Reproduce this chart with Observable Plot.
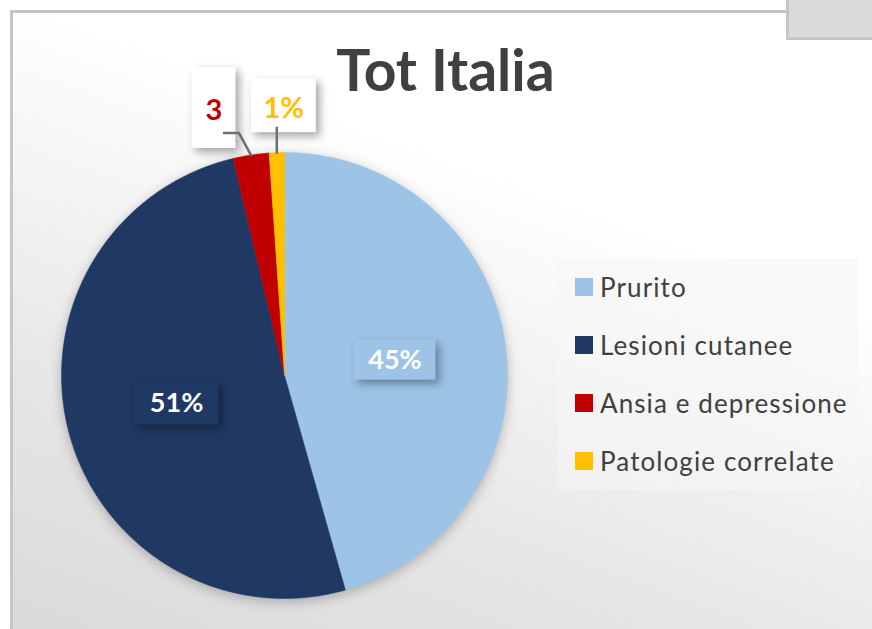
<!DOCTYPE html>
<html>
<head>
<meta charset="utf-8">
<script src="https://cdn.jsdelivr.net/npm/d3@7"></script>
<script src="https://cdn.jsdelivr.net/npm/@observablehq/plot@0.6"></script>
<style>
  html, body { margin: 0; padding: 0; background: #ffffff; }
  #wrap { position: relative; width: 872px; height: 629px; overflow: hidden; font-family: Lato, "Open Sans", sans-serif; }
  #bg { position: absolute; left: 10px; top: 10px; width: 900px; height: 700px;
        border-left: 3px solid #c6c6c6; border-top: 3px solid #c6c6c6;
        background: linear-gradient(200deg, #ffffff 0%, #ffffff 30%, #e4e4e4 70%, #d6d6d6 100%); }
  #corner { position: absolute; left: 786px; top: -4px; width: 100px; height: 41px;
        border-left: 3px solid #c6c6c6; border-bottom: 3px solid #c6c6c6; background: #dadada; }
  #chart { position: absolute; left: 0; top: 0; }
  #legend { position: absolute; left: 557px; top: 258px; width: 301px; height: 232px;
        background: rgba(245,245,245,0.55); }
  .item { position: absolute; left: 18px; height: 26px; display: flex; align-items: center;
        font-size: 26px; letter-spacing: 1.1px; color: #404040; white-space: nowrap; }
  .sw { width: 18px; height: 18px; margin-right: 7px; }
</style>
</head>
<body>
<div id="wrap">
  <div id="bg"></div>
  <div id="corner"></div>
  <div id="chart"></div>
  <div id="legend"></div>
</div>
<script>
// ---- data ----
const title = "Tot Italia";
const categories = ["Prurito", "Lesioni cutanee", "Ansia e depressione", "Patologie correlate"];
const values = [45.6, 50.7, 2.6, 1.1];
const labels = ["45%", "51%", "3", "1%"];
const colors = ["#9DC3E6", "#203864", "#C00000", "#FFC000"];

// ---- layout constants ----
const W = 872, H = 629, CX = 284, CY = 375, R = 223;
const px = v => v / R; // pixels -> data units

const arcs = d3.pie().sort(null).value(d => d)(values);

// polygon vertices for each slice (computed geometry from the pie angles)
const slicePts = [];
arcs.forEach((a, i) => {
  const n = Math.max(2, Math.ceil((a.endAngle - a.startAngle) / 0.005));
  slicePts.push({cat: categories[i], x: 0, y: 0});
  for (let k = 0; k <= n; k++) {
    const t = a.startAngle + (a.endAngle - a.startAngle) * k / n;
    slicePts.push({cat: categories[i], x: Math.sin(t), y: Math.cos(t)});
  }
});

const mid = a => (a.startAngle + a.endAngle) / 2;
const at = (a, r) => ({x: r * Math.sin(mid(a)), y: r * Math.cos(mid(a))});

// inside labels (first two slices)
const inside = arcs.slice(0, 2).map((a, i) => ({...at(a, 0.5), label: labels[i], cat: categories[i]}));
const boxIn = [{w: 82, h: 40}, {w: 85, h: 43}];
const inBoxes = inside.map((d, i) => ({cat: d.cat, x1: d.x - px(boxIn[i].w / 2), x2: d.x + px(boxIn[i].w / 2),
  y1: d.y - px(boxIn[i].h / 2), y2: d.y + px(boxIn[i].h / 2)}));

// outside labels (small slices) with callout offsets from the arc point (px)
const outOff = [{dx: -37, dy: -47, w: 44, h: 81}, {dx: 7, dy: -47, w: 65, h: 54}];
const outside = arcs.slice(2).map((a, j) => {
  const p = at(a, 1);
  const o = outOff[j];
  const cx = p.x + px(o.dx), cy = p.y - px(o.dy);
  return {p, cx, cy, o, label: labels[j + 2], cat: categories[j + 2], color: colors[j + 2]};
});
const outBoxes = outside.map(d => ({x1: d.cx - px(d.o.w / 2), x2: d.cx + px(d.o.w / 2),
  y1: d.cy - px(d.o.h / 2), y2: d.cy + px(d.o.h / 2)}));

// leader lines
const leaders = [];
{
  const d = outside[0];
  leaders.push({k: 0, x: d.p.x, y: d.p.y});
  leaders.push({k: 0, x: d.p.x - px(12), y: d.p.y + px(22)});
  leaders.push({k: 0, x: d.p.x - px(27), y: d.p.y + px(22)});
  const e = outside[1];
  leaders.push({k: 1, x: e.p.x, y: e.p.y});
  leaders.push({k: 1, x: e.p.x, y: e.p.y + px(25)});
}

const chart = Plot.plot({
  width: W, height: H, margin: 0,
  style: {background: "transparent", fontFamily: "Lato, 'Open Sans', sans-serif", overflow: "visible"},
  x: {domain: [-CX / R, (W - CX) / R], axis: null},
  y: {domain: [-(H - CY) / R, CY / R], axis: null},
  color: {domain: categories, range: colors},
  marks: [
    Plot.line(slicePts, {x: "x", y: "y", z: "cat", fill: "cat", stroke: "cat", strokeWidth: 0.5, curve: "linear-closed", ariaDescription: "pie"}),
    Plot.rect(inBoxes, {x1: "x1", x2: "x2", y1: "y1", y2: "y2", fill: "cat", ariaDescription: "box"}),
    Plot.text(inside, {x: "x", y: "y", text: "label", fill: "white", fontSize: 27, fontWeight: "bold"}),
    Plot.rect(outBoxes, {x1: "x1", x2: "x2", y1: "y1", y2: "y2", fill: "white", ariaDescription: "box"}),
    Plot.line(leaders, {x: "x", y: "y", z: "k", stroke: "#6f6f6f", strokeWidth: 2.5}),
    Plot.text(outside, {x: "cx", y: "cy", text: "label", fill: d => d.color, fontSize: 29, fontWeight: "bold", dy: 3}),
    Plot.text([title], {frameAnchor: "top", dx: 9, dy: 72, text: d => d, fontSize: 57, fontWeight: "bold", fill: "#404040", lineAnchor: "middle"})
  ]
});
document.getElementById("chart").appendChild(chart);
chart.querySelectorAll('g[aria-description="pie"]').forEach(g => g.style.filter = "drop-shadow(0px 3px 6px rgba(0,0,0,0.25))");
chart.querySelectorAll('g[aria-description="box"]').forEach(g => g.style.filter = "drop-shadow(4px 4px 4px rgba(0,0,0,0.35))");

// legend
const leg = document.getElementById("legend");
const rowY = [29, 87, 145, 203];
categories.forEach((c, i) => {
  const it = document.createElement("div");
  it.className = "item";
  it.style.top = (rowY[i] - 13) + "px";
  const sw = document.createElement("div");
  sw.className = "sw";
  sw.style.background = colors[i];
  const tx = document.createElement("span");
  tx.textContent = c;
  it.appendChild(sw); it.appendChild(tx);
  leg.appendChild(it);
});
</script>
</body>
</html>
